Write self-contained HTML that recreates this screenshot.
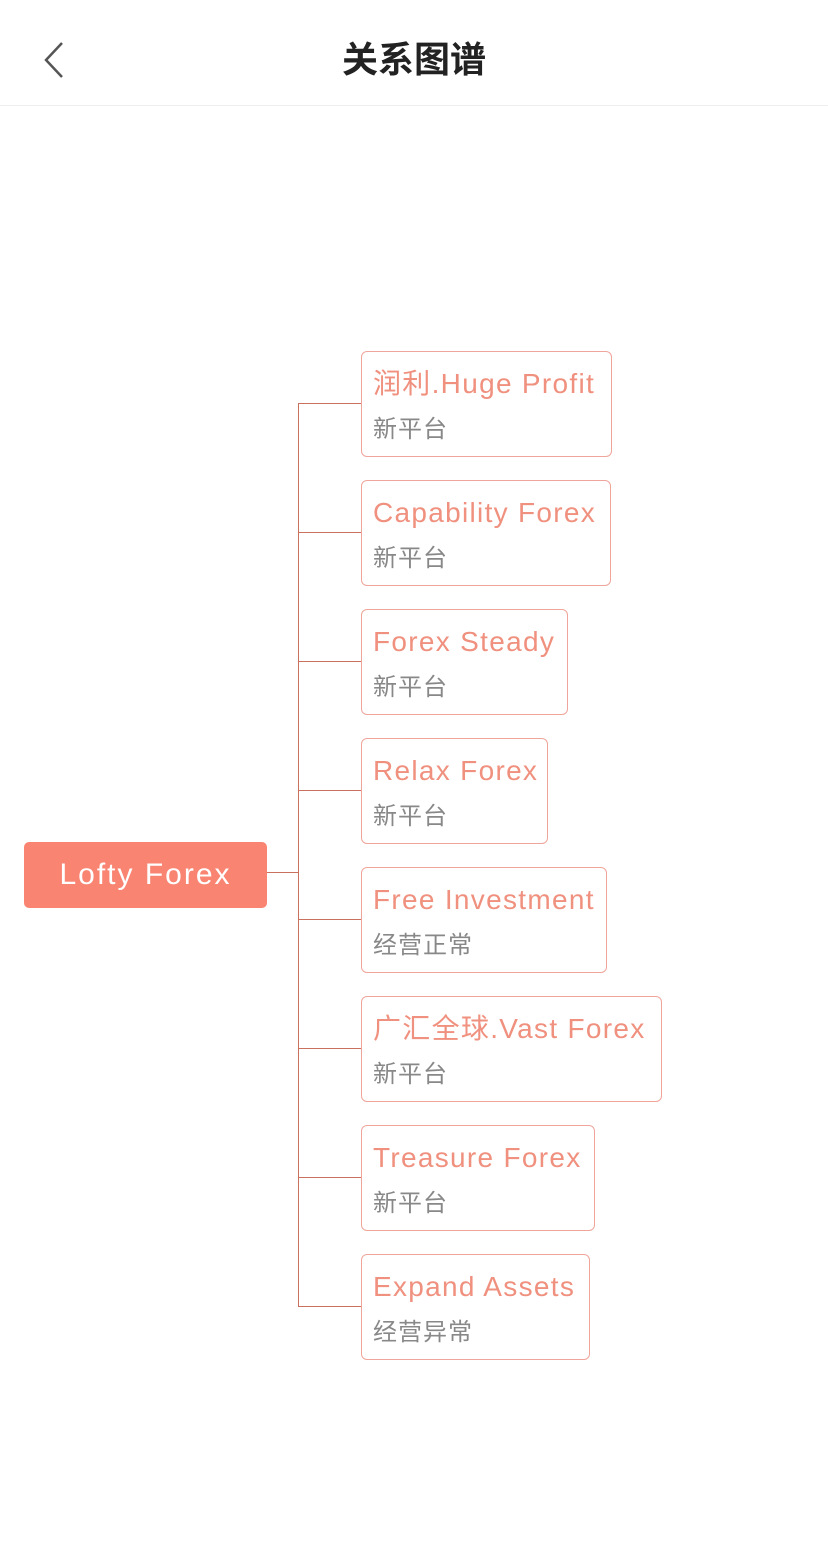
<!DOCTYPE html>
<html><head><meta charset="utf-8"><style>
body{margin:0;width:828px;height:1567px;background:#fff;position:relative;overflow:hidden;font-family:"Liberation Sans","Noto Sans CJK SC",sans-serif}
.title{position:absolute;top:38px;left:0;width:828px;text-align:center;font-size:36px;font-weight:bold;color:#222;line-height:44px}
.hr{position:absolute;top:105px;left:0;width:828px;height:1px;background:#eee}
.root{position:absolute;left:24px;top:842px;width:243px;height:66px;background:#f98472;border-radius:5px;color:#fff;font-size:30px;line-height:66px;text-align:center;letter-spacing:2px}
.n{position:absolute;left:361px;height:104px;border:1px solid #f0a59a;border-radius:6px;box-sizing:content-box}
.n .a{position:absolute;left:11px;top:14px;font-size:28px;color:#f0907e;white-space:nowrap;line-height:36px;letter-spacing:1.3px}
.n .b{position:absolute;left:11px;top:62px;font-size:24px;color:#888;white-space:nowrap;line-height:32px;letter-spacing:1px}
.l{position:absolute;background:#c9705f}
</style></head><body>
<svg style="position:absolute;left:40px;top:40px" width="30" height="40"><polyline points="22,3 6,20 22,37" fill="none" stroke="#555" stroke-width="2.5"/></svg>
<div class="title">关系图谱</div>
<div class="hr"></div>
<div class="l" style="left:267px;top:872px;width:31px;height:1px"></div>
<div class="l" style="left:298px;top:403px;width:1px;height:904px"></div>
<div class="l" style="left:298px;top:403px;width:63px;height:1px"></div>
<div class="l" style="left:298px;top:532px;width:63px;height:1px"></div>
<div class="l" style="left:298px;top:661px;width:63px;height:1px"></div>
<div class="l" style="left:298px;top:790px;width:63px;height:1px"></div>
<div class="l" style="left:298px;top:919px;width:63px;height:1px"></div>
<div class="l" style="left:298px;top:1048px;width:63px;height:1px"></div>
<div class="l" style="left:298px;top:1177px;width:63px;height:1px"></div>
<div class="l" style="left:298px;top:1306px;width:63px;height:1px"></div>
<div class="root">Lofty Forex</div>
<div class="n" style="top:351px;width:249px"><div class="a">润利.Huge Profit</div><div class="b">新平台</div></div>
<div class="n" style="top:480px;width:248px"><div class="a">Capability Forex</div><div class="b">新平台</div></div>
<div class="n" style="top:609px;width:205px"><div class="a">Forex Steady</div><div class="b">新平台</div></div>
<div class="n" style="top:738px;width:185px"><div class="a">Relax Forex</div><div class="b">新平台</div></div>
<div class="n" style="top:867px;width:244px"><div class="a">Free Investment</div><div class="b">经营正常</div></div>
<div class="n" style="top:996px;width:299px"><div class="a">广汇全球.Vast Forex</div><div class="b">新平台</div></div>
<div class="n" style="top:1125px;width:232px"><div class="a">Treasure Forex</div><div class="b">新平台</div></div>
<div class="n" style="top:1254px;width:227px"><div class="a">Expand Assets</div><div class="b">经营异常</div></div>
</body></html>
